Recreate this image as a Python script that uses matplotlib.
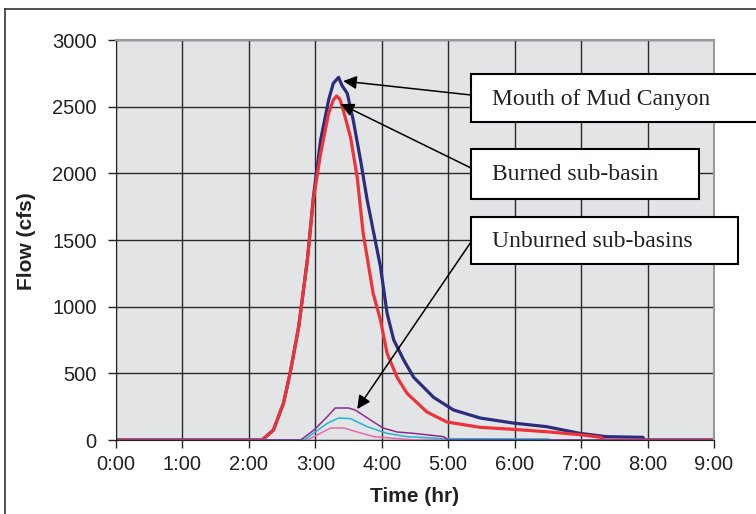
import matplotlib.pyplot as plt
from matplotlib.patches import Rectangle
from matplotlib.lines import Line2D
from matplotlib.ticker import FixedLocator

# hydrograph data, time in hours, flow in cfs
t_mouth = [0, 2.2, 2.37, 2.52, 2.62, 2.75, 2.88, 2.97, 3.08, 3.2, 3.27, 3.35, 3.4,
           3.48, 3.57, 3.68, 3.78, 3.88, 3.98, 4.08, 4.18, 4.33, 4.48, 4.78, 5.08,
           5.48, 5.98, 6.48, 6.98, 7.38, 7.93, 7.95, 9]
q_mouth = [0, 0, 75, 275, 500, 850, 1350, 1820, 2250, 2550, 2675, 2720, 2660,
           2600, 2400, 2100, 1800, 1550, 1300, 950, 750, 600, 470, 320, 225,
           165, 127, 100, 50, 25, 20, 0, 0]

t_burned = [0, 2.2, 2.37, 2.52, 2.62, 2.75, 2.88, 2.97, 3.08, 3.2, 3.27, 3.32, 3.37,
            3.42, 3.53, 3.63, 3.72, 3.87, 3.98, 4.08, 4.23, 4.38, 4.68, 4.98, 5.48,
            5.98, 6.53, 6.98, 7.3, 7.35, 9]
q_burned = [0, 0, 75, 275, 500, 850, 1350, 1800, 2150, 2450, 2550, 2580, 2555,
            2475, 2270, 1970, 1550, 1100, 900, 650, 470, 350, 210, 135, 95,
            80, 60, 40, 20, 0, 0]

t_unb1 = [0, 2.78, 2.98, 3.18, 3.3, 3.5, 3.6, 3.83, 4.02, 4.23, 4.48, 4.93, 5.0, 9]
q_unb1 = [0, 0, 75, 175, 240, 240, 225, 150, 90, 60, 50, 25, 0, 0]

t_unb2 = [0, 2.83, 3.18, 3.35, 3.53, 3.78, 4.08, 4.38, 4.93, 6.5, 6.55, 9]
q_unb2 = [0, 0, 125, 165, 160, 100, 50, 25, 10, 8, 0, 0]

t_unb3 = [0, 2.88, 3.23, 3.43, 3.63, 3.88, 4.38, 4.5, 9]
q_unb3 = [0, 0, 90, 90, 60, 25, 5, 0, 0]

hours = list(range(10))
hour_labels = ["%d:00" % h for h in hours]
y_ticks = [0, 500, 1000, 1500, 2000, 2500, 3000]

W, H = 756, 514


def fx(x):
    return x / W


def fy(y):
    # y measured from the top of the picture
    return 1 - y / H


fig = plt.figure(figsize=(W / 100, H / 100), dpi=100)
fig.patch.set_facecolor("white")
ax = fig.add_axes([fx(116), fy(440), fx(714) - fx(116), fy(40) - fy(440)])
ax.set_facecolor("#e3e4e6")
ax.set_axisbelow(True)

ax.plot(t_mouth, q_mouth, color="#2b2c7c", lw=2.3)
ax.plot(t_burned, q_burned, color="#ee3338", lw=2.3)
ax.plot(t_unb3, q_unb3, color="#e868b0", lw=1.1)
ax.plot(t_unb2, q_unb2, color="#1cb8d6", lw=1.1)
ax.plot(t_unb1, q_unb1, color="#8e2a8e", lw=1.1)

ax.set_xlim(0, 9)
ax.set_ylim(0, 3000)
ax.xaxis.set_major_locator(FixedLocator(hours))
ax.set_xticklabels(hour_labels)
ax.yaxis.set_major_locator(FixedLocator(y_ticks))
ax.grid(True, color="#2a2a2a", lw=1.0)

for lab in ax.get_xticklabels() + ax.get_yticklabels():
    lab.set_family(["Liberation Sans", "DejaVu Sans"])
    lab.set_fontsize(14.5)
    lab.set_color("#222222")
ax.tick_params(axis="both", direction="out", length=6, width=1, color="#222222")
ax.tick_params(axis="y", pad=8)
ax.tick_params(axis="x", pad=5)

ax.spines["left"].set_color("#222222")
ax.spines["bottom"].set_color("#222222")
ax.spines["top"].set_color("#9a9a9a")
ax.spines["right"].set_color("#9a9a9a")
ax.spines["top"].set_linewidth(1.5)
ax.spines["right"].set_linewidth(1.5)

fig.text(fx(27), fy(241), "Flow (cfs)", rotation=90, ha="center", va="center",
         fontsize=15, fontweight="bold", family=["Liberation Sans", "DejaVu Sans"],
         color="#222222")
fig.text(fx(415), fy(497), "Time (hr)", ha="center", va="center",
         fontsize=15, fontweight="bold", family=["Liberation Sans", "DejaVu Sans"],
         color="#222222")

# outer frame (left and top edges visible)
fig.add_artist(Line2D([fx(5), fx(5)], [0, fy(9)], color="#333333", lw=1.2))
fig.add_artist(Line2D([fx(5), 1], [fy(9), fy(9)], color="#333333", lw=1.2))

# callout boxes: (label, left, top, right, bottom, arrow start y, arrow tip)
callouts = [
    ("Mouth of Mud Canyon", 471, 74, 762, 122, 95, (3.42, 2692)),
    ("Burned sub-basin", 471, 149, 699, 199, 168, (3.38, 2520)),
    ("Unburned sub-basins", 471, 217, 738, 264, 242, (3.63, 232)),
]
for text, x0, y0, x1, y1, ya, tip in callouts:
    ax.annotate("", xy=tip, xycoords="data",
                xytext=(x0, H - ya), textcoords="figure pixels",
                arrowprops=dict(arrowstyle="-|>", color="black", lw=1.1,
                                mutation_scale=20, shrinkA=0, shrinkB=0),
                annotation_clip=False)
    fig.add_artist(Rectangle((fx(x0), fy(y1)), fx(x1) - fx(x0), fy(y0) - fy(y1),
                             transform=fig.transFigure, facecolor="white",
                             edgecolor="black", lw=1.5, zorder=5))
    fig.text(fx(492), fy((y0 + y1) / 2 + 1), text, ha="left", va="center",
             fontsize=17, family=["Liberation Serif", "DejaVu Serif"],
             color="#222222", zorder=6)

fig.savefig("out.png", dpi=100)
